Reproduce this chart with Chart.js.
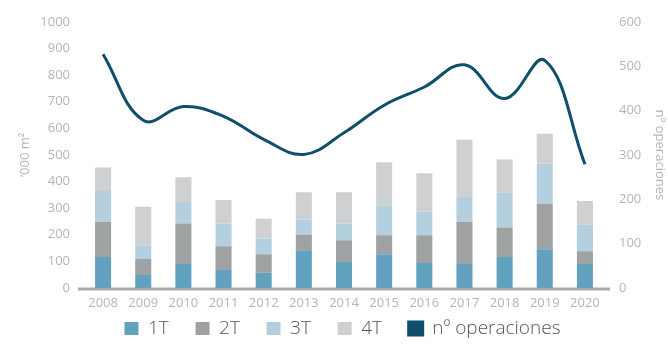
<!DOCTYPE html>
<html>
<head>
<meta charset="utf-8">
<script src="https://cdn.jsdelivr.net/npm/chart.js@4.4.1/dist/chart.umd.min.js"></script>
<style>
  html, body { margin: 0; padding: 0; background: #fff; }
  #wrap { width: 668px; height: 345px; position: relative; }
</style>
</head>
<body>
<div id="wrap"><canvas id="chart"></canvas></div>
<script>
// Superficie contratada por trimestre ('000 m²) y número de operaciones
const years = ["2008", "2009", "2010", "2011", "2012", "2013", "2014", "2015", "2016", "2017", "2018", "2019", "2020"];
const q1 = [116, 49, 90, 68, 57, 142, 98, 127, 94, 90, 116, 146, 90];
const q2 = [133, 60, 152, 89, 70, 59, 81, 71, 104, 159, 111, 170, 48];
const q3 = [115, 51, 81, 85, 59, 56, 63, 111, 88, 93, 133, 152, 100];
const q4 = [89, 145, 93, 89, 74, 103, 118, 163, 145, 215, 123, 111, 89];
const operaciones = [527, 378, 409, 387, 335, 301, 350, 412, 453, 503, 427, 513, 279];

const leftTicks = [0, 100, 200, 300, 400, 500, 600, 700, 800, 900, 1000];
const rightTicks = [0, 100, 200, 300, 400, 500, 600];

const FONT = "'Open Sans', 'DejaVu Sans', sans-serif";
const TICK_COLOR = "#b5b5b5";

// grey baseline, a little wider than the category band
const baseline = {
  id: "baseline",
  beforeDatasetsDraw(chart) {
    const { ctx, chartArea } = chart;
    const y = chart.scales.y.getPixelForValue(0);
    ctx.save();
    ctx.strokeStyle = "#a7a9aa";
    ctx.lineWidth = 3;
    ctx.beginPath();
    ctx.moveTo(chartArea.left - 5, y + 1);
    ctx.lineTo(chartArea.right + 5, y + 1);
    ctx.stroke();
    ctx.restore();
  }
};

const barDs = (label, data, color) => ({
  type: "bar",
  label: label,
  data: data,
  backgroundColor: color,
  borderWidth: 0,
  stack: "m2",
  yAxisID: "y",
  barPercentage: 0.4,
  categoryPercentage: 1,
  order: 2
});

// default legend items, with some room after each quarter label
const legendLabels = (chart) => {
  const items = Chart.defaults.plugins.legend.labels.generateLabels(chart);
  items.sort((a, b) => a.datasetIndex - b.datasetIndex);
  items.forEach((item, i) => {
    if (i < items.length - 1) item.text = item.text + "    ";
  });
  return items;
};

new Chart(document.getElementById("chart"), {
  type: "bar",
  data: {
    labels: years,
    datasets: [
      barDs("1T", q1, "#63a2bf"),
      barDs("2T", q2, "#9ea2a3"),
      barDs("3T", q3, "#b4d0de"),
      barDs("4T", q4, "#cfd0d2"),
      {
        type: "line",
        label: "nº operaciones",
        data: operaciones,
        yAxisID: "y1",
        borderColor: "#0e4f6b",
        backgroundColor: "#0e4f6b",
        borderWidth: 3,
        pointRadius: 0,
        tension: 0.4,
        fill: false,
        order: 1
      }
    ]
  },
  options: {
    responsive: true,
    maintainAspectRatio: false,
    animation: false,
    layout: { padding: { top: 18, left: 17, right: 0, bottom: -3 } },
    plugins: {
      tooltip: { enabled: false },
      legend: {
        position: "bottom",
        labels: {
          color: "#555555",
          font: { family: FONT, size: 19, weight: 300 },
          boxWidth: 14,
          boxHeight: 13,
          padding: 7,
          generateLabels: legendLabels
        }
      }
    },
    scales: {
      x: {
        stacked: true,
        grid: { display: false, drawTicks: false },
        border: { display: false },
        ticks: { color: TICK_COLOR, font: { family: FONT, size: 13 }, padding: 7, maxRotation: 0 },
        afterFit(scale) { scale.height = 24; }
      },
      y: {
        position: "left",
        stacked: true,
        min: 0,
        max: 1000,
        afterBuildTicks(scale) { scale.ticks = leftTicks.map(v => ({ value: v })); },
        grid: { display: false, drawTicks: false },
        border: { display: false },
        ticks: {
          color: TICK_COLOR,
          font: { family: FONT, size: 13 },
          padding: 13,
          callback: (v) => String(v)
        },
        title: {
          display: true,
          text: "‘000 m²",
          color: TICK_COLOR,
          font: { family: FONT, size: 13 },
          padding: { top: 0, bottom: 0 }
        },
        afterFit(scale) { scale.width = 66; }
      },
      y1: {
        position: "right",
        min: 0,
        max: 600,
        afterBuildTicks(scale) { scale.ticks = rightTicks.map(v => ({ value: v })); },
        grid: { display: false, drawTicks: false },
        border: { display: false },
        ticks: {
          color: TICK_COLOR,
          font: { family: FONT, size: 13 },
          padding: 14,
          callback: (v) => String(v)
        },
        title: {
          display: true,
          text: "nº operaciones",
          color: TICK_COLOR,
          font: { family: FONT, size: 13 },
          padding: { top: 0, bottom: 1 }
        },
        afterFit(scale) { scale.width = 63; }
      }
    }
  },
  plugins: [baseline]
});
</script>
</body>
</html>
